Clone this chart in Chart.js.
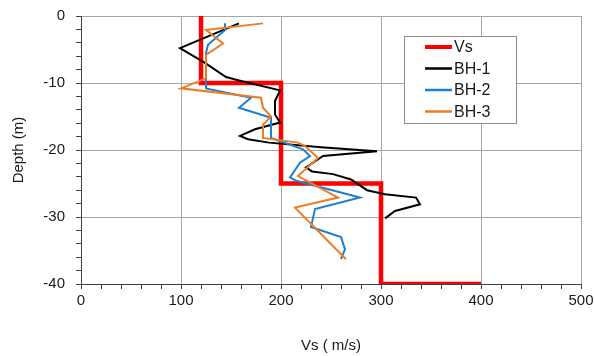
<!DOCTYPE html>
<html>
<head>
<meta charset="utf-8">
<script src="https://cdn.jsdelivr.net/npm/chart.js@4.4.1/dist/chart.umd.min.js"></script>
<style>
    html, body { margin: 0; padding: 0; background: #fff; }
    #wrap { width: 595px; height: 356px; }
</style>
</head>
<body>
<div id="wrap"><canvas id="vsChart" width="595" height="356"></canvas></div>
<script>
// Vs step profile
const vsVel   = [120, 120, 200, 200, 300, 300, 400];
const vsDepth = [0, -10, -10, -25, -25, -40, -40];

// Borehole profiles
const bh1Vel   = [158, 99, 124, 145, 160, 199, 194, 194, 199, 174, 159, 167, 188, 240, 296, 242, 225, 231, 252, 270, 286, 304, 335, 339, 314, 304];
const bh1Depth = [-1.1, -4.8, -7.0, -9.1, -9.7, -11.1, -12.7, -14.7, -15.9, -16.9, -17.9, -18.4, -18.9, -19.6, -20.2, -20.9, -22.6, -23.2, -23.6, -24.4, -26.0, -26.6, -27.1, -28.1, -29.1, -30.2];

const bh2Vel   = [144, 144, 127, 125, 125, 170, 158, 190, 190, 205, 222, 229, 219, 209, 215, 279, 234, 230, 260, 264, 260];
const bh2Depth = [-1.1, -2.1, -4.3, -5.5, -10.8, -12.2, -13.7, -15.2, -18.2, -19.0, -19.9, -20.9, -21.9, -24.1, -24.6, -27.1, -28.8, -31.5, -33.0, -34.8, -36.3];

const bh3Vel   = [182, 125, 142, 125, 125, 100, 180, 182, 190, 182, 182, 217, 224, 237, 217, 257, 214, 265];
const bh3Depth = [-1.1, -2.1, -4.1, -5.8, -9.3, -10.8, -12.2, -13.7, -15.0, -16.2, -18.2, -18.9, -19.4, -21.2, -23.9, -27.1, -28.6, -36.3];

const xTicks = [0, 100, 200, 300, 400, 500];
const yTicks = [0, -10, -20, -30, -40];

function toPoints(xs, ys) {
    return xs.map((x, i) => ({ x: x, y: ys[i] }));
}

const FONT = "'Liberation Sans', Arial, sans-serif";
const gridGray = '#a6a6a6';
const axisDark = '#404040';

// legend box drawn inside the plot, on top of the lines
const boxLegend = {
    id: 'boxLegend',
    afterDraw(chart) {
        const ctx = chart.ctx;
        const left = 404, top = 36, w = 112, h = 87;
        ctx.save();
        ctx.fillStyle = '#fff';
        ctx.fillRect(left, top, w, h);
        ctx.strokeStyle = '#8c8c8c';
        ctx.lineWidth = 1;
        ctx.strokeRect(left + 0.5, top + 0.5, w, h);
        ctx.font = '16px ' + FONT;
        ctx.textBaseline = 'middle';
        ctx.fillStyle = '#1a1a1a';
        chart.data.datasets.forEach((ds, i) => {
            const y = top + 11 + i * 21.5;
            ctx.strokeStyle = ds.borderColor;
            ctx.lineWidth = ds.legendWidth;
            ctx.beginPath();
            ctx.moveTo(left + 21, y);
            ctx.lineTo(left + 48, y);
            ctx.stroke();
            ctx.fillText(ds.label, left + 50, y + 1);
        });
        ctx.restore();
    }
};

const lineDefaults = {
    showLine: true,
    fill: false,
    pointRadius: 0,
    tension: 0,
    borderJoinStyle: 'miter'
};

new Chart(document.getElementById('vsChart'), {
    type: 'scatter',
    data: {
        datasets: [
            Object.assign({ label: 'Vs', data: toPoints(vsVel, vsDepth), borderColor: '#ff0000', borderWidth: 4.5, legendWidth: 4, order: 4 }, lineDefaults),
            Object.assign({ label: 'BH-1', data: toPoints(bh1Vel, bh1Depth), borderColor: '#000000', borderWidth: 2, legendWidth: 2.5, order: 3 }, lineDefaults),
            Object.assign({ label: 'BH-2', data: toPoints(bh2Vel, bh2Depth), borderColor: '#1f7fcc', borderWidth: 2, legendWidth: 2.5, order: 2 }, lineDefaults),
            Object.assign({ label: 'BH-3', data: toPoints(bh3Vel, bh3Depth), borderColor: '#ee7d22', borderWidth: 2, legendWidth: 2.5, order: 1 }, lineDefaults)
        ]
    },
    options: {
        responsive: false,
        animation: false,
        layout: { padding: { top: 16, right: 14, left: 0, bottom: 0 } },
        plugins: {
            legend: { display: false },
            tooltip: { enabled: false }
        },
        scales: {
            x: {
                type: 'linear',
                min: 0,
                max: 500,
                afterFit: s => {
                    s.height = 72;
                    s.paddingLeft = 0;
                    s.paddingRight = 0;
                },
                afterBuildTicks: s => {
                    const t = [];
                    for (let v = 0; v <= 500; v += 20) t.push({ value: v });
                    s.ticks = t;
                },
                ticks: {
                    autoSkip: false,
                    maxRotation: 0,
                    padding: 3,
                    color: '#1a1a1a',
                    font: { family: FONT, size: 15 },
                    callback: v => xTicks.includes(v) ? String(v) : ''
                },
                grid: {
                    color: c => (c.tick && xTicks.includes(c.tick.value)) ? gridGray : 'rgba(0,0,0,0)',
                    tickColor: axisDark,
                    tickLength: 5
                },
                border: { color: axisDark, width: 1 },
                title: {
                    display: true,
                    text: 'Vs ( m/s)',
                    color: '#1a1a1a',
                    font: { family: FONT, size: 15 },
                    padding: { top: 0, bottom: 1 }
                }
            },
            y: {
                type: 'linear',
                min: -40,
                max: 0,
                afterFit: s => {
                    s.width = 81;
                    s.paddingTop = 0;
                    s.paddingBottom = 0;
                },
                afterBuildTicks: s => {
                    const t = [];
                    for (let v = -40; v <= 0; v += 2) t.push({ value: v });
                    s.ticks = t;
                },
                ticks: {
                    autoSkip: false,
                    padding: 11,
                    color: '#1a1a1a',
                    font: { family: FONT, size: 15 },
                    callback: v => yTicks.includes(v) ? String(v) : ''
                },
                grid: {
                    color: c => (c.tick && yTicks.includes(c.tick.value)) ? gridGray : 'rgba(0,0,0,0)',
                    tickColor: axisDark,
                    tickLength: 5
                },
                border: { color: axisDark, width: 1 },
                title: {
                    display: true,
                    text: 'Depth (m)',
                    color: '#1a1a1a',
                    font: { family: FONT, size: 15 },
                    padding: { top: 10, bottom: 0 }
                }
            }
        }
    },
    plugins: [boxLegend]
});
</script>
</body>
</html>
